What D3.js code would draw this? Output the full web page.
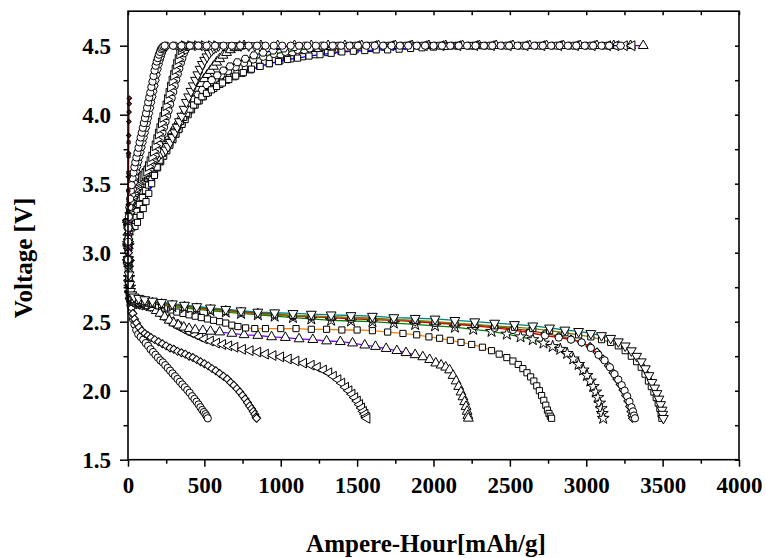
<!DOCTYPE html>
<html>
<head>
<meta charset="utf-8">
<script src="https://cdn.jsdelivr.net/npm/d3@7"></script>
<style>
  body { margin: 0; background: #fff; }
  text { font-family: "Liberation Serif", "Times New Roman", serif; font-weight: bold; fill: #000; }
</style>
</head>
<body>
<svg id="chart" width="766" height="558"></svg>
<script>
// ---- axis ticks ----
const xTicks = [0, 500, 1000, 1500, 2000, 2500, 3000, 3500, 4000];
const xMinorTicks = [250, 750, 1250, 1750, 2250, 2750, 3250, 3750];
const yTicks = [1.5, 2.0, 2.5, 3.0, 3.5, 4.0, 4.5];
const yMinorTicks = [1.75, 2.25, 2.75, 3.25, 3.75, 4.25];
const xTitle = "Ampere-Hour[mAh/g]";
const yTitle = "Voltage [V]";

// ---- discharge curves: [capacity mAh/g, voltage V] ----
const discharge1 = [[0,3.22],[2,3.02],[4,2.88],[7,2.76],[11,2.68],[16,2.62],[23,2.57],[32,2.52],[42,2.48],[54,2.44],[67,2.41],[83,2.39],[100,2.37],[116,2.345],[132,2.325],[148,2.30],[164,2.28],[180,2.26],[196,2.24],[212,2.22],[228,2.205],[244,2.185],[260,2.165],[276,2.145],[292,2.125],[308,2.105],[324,2.085],[340,2.065],[356,2.045],[372,2.025],[388,2.005],[404,1.985],[420,1.96],[435,1.94],[449,1.92],[462,1.90],[474,1.88],[486,1.86],[497,1.845],[507,1.83],[515,1.815],[522,1.80]];
const discharge2 = [[0,3.22],[2,3.04],[4,2.90],[7,2.78],[11,2.70],[16,2.65],[23,2.60],[32,2.56],[43,2.52],[56,2.49],[72,2.46],[90,2.435],[110,2.415],[130,2.40],[150,2.385],[175,2.37],[200,2.355],[225,2.34],[250,2.325],[275,2.31],[300,2.30],[325,2.285],[350,2.275],[375,2.265],[400,2.25],[425,2.24],[450,2.225],[475,2.21],[500,2.195],[525,2.18],[550,2.16],[575,2.145],[600,2.125],[625,2.105],[650,2.085],[672,2.06],[693,2.04],[713,2.015],[732,1.99],[750,1.965],[767,1.94],[782,1.915],[796,1.89],[809,1.87],[820,1.85],[830,1.83],[838,1.81],[842,1.80]];
const discharge3 = [[0,3.22],[2,3.05],[4,2.92],[7,2.80],[11,2.72],[17,2.67],[25,2.645],[40,2.63],[60,2.625],[80,2.62],[105,2.615],[130,2.61],[155,2.605],[180,2.59],[205,2.57],[230,2.545],[255,2.52],[280,2.50],[305,2.48],[330,2.465],[355,2.45],[380,2.435],[410,2.42],[440,2.405],[470,2.39],[500,2.375],[540,2.36],[580,2.345],[620,2.335],[660,2.325],[700,2.315],[750,2.30],[800,2.29],[850,2.28],[900,2.265],[950,2.255],[1000,2.245],[1050,2.23],[1100,2.215],[1150,2.20],[1200,2.185],[1240,2.17],[1280,2.15],[1315,2.13],[1345,2.105],[1375,2.08],[1400,2.055],[1425,2.025],[1447,2.00],[1467,1.975],[1485,1.95],[1502,1.925],[1517,1.90],[1530,1.875],[1542,1.85],[1552,1.83],[1560,1.81],[1565,1.80]];
const discharge4 = [[0,3.22],[2,3.05],[4,2.92],[7,2.81],[11,2.73],[17,2.68],[25,2.655],[40,2.64],[60,2.635],[85,2.63],[110,2.625],[135,2.615],[160,2.60],[185,2.58],[210,2.56],[240,2.535],[270,2.51],[300,2.49],[330,2.475],[365,2.46],[400,2.45],[440,2.44],[490,2.435],[540,2.43],[600,2.425],[680,2.415],[760,2.405],[850,2.40],[940,2.39],[1030,2.385],[1120,2.375],[1210,2.37],[1300,2.36],[1390,2.355],[1470,2.345],[1550,2.33],[1620,2.32],[1690,2.305],[1760,2.29],[1820,2.275],[1880,2.26],[1930,2.245],[1975,2.225],[2015,2.20],[2050,2.185],[2080,2.17],[2105,2.15],[2128,2.11],[2148,2.07],[2165,2.03],[2180,1.99],[2193,1.955],[2204,1.92],[2213,1.885],[2220,1.85],[2225,1.82],[2228,1.80]];
const discharge5 = [[0,3.22],[2,3.05],[4,2.92],[7,2.81],[11,2.74],[17,2.69],[25,2.665],[40,2.65],[60,2.645],[90,2.64],[120,2.635],[160,2.625],[200,2.615],[240,2.60],[280,2.585],[320,2.57],[360,2.56],[400,2.55],[440,2.54],[480,2.53],[520,2.52],[560,2.51],[600,2.50],[640,2.49],[680,2.475],[720,2.465],[770,2.455],[830,2.45],[900,2.45],[1000,2.45],[1100,2.45],[1200,2.445],[1300,2.445],[1400,2.44],[1500,2.44],[1600,2.435],[1700,2.425],[1800,2.415],[1890,2.405],[1970,2.39],[2040,2.38],[2110,2.365],[2180,2.35],[2250,2.335],[2320,2.315],[2380,2.29],[2430,2.265],[2480,2.24],[2520,2.215],[2555,2.19],[2585,2.16],[2612,2.13],[2636,2.10],[2657,2.07],[2676,2.035],[2693,2.00],[2708,1.965],[2722,1.93],[2735,1.895],[2746,1.86],[2756,1.835],[2765,1.815],[2773,1.80]];
const discharge6 = [[0,3.22],[2,3.05],[4,2.93],[7,2.82],[11,2.75],[17,2.70],[25,2.675],[40,2.66],[70,2.65],[110,2.64],[160,2.63],[220,2.62],[290,2.61],[370,2.60],[450,2.59],[540,2.58],[640,2.57],[740,2.56],[850,2.55],[960,2.54],[1080,2.53],[1200,2.52],[1330,2.51],[1460,2.505],[1600,2.50],[1740,2.49],[1880,2.48],[2010,2.47],[2140,2.46],[2260,2.445],[2380,2.43],[2480,2.41],[2570,2.39],[2650,2.37],[2720,2.345],[2780,2.32],[2830,2.30],[2875,2.27],[2915,2.23],[2950,2.19],[2980,2.15],[3005,2.11],[3027,2.07],[3046,2.03],[3062,1.99],[3076,1.95],[3088,1.91],[3098,1.87],[3105,1.835],[3111,1.80]];
const discharge7 = [[0,3.22],[2,3.06],[4,2.94],[7,2.83],[11,2.76],[17,2.71],[25,2.685],[40,2.67],[70,2.66],[110,2.65],[160,2.64],[220,2.63],[290,2.62],[370,2.61],[450,2.60],[540,2.59],[640,2.58],[740,2.57],[850,2.56],[960,2.55],[1080,2.54],[1200,2.535],[1330,2.53],[1460,2.52],[1600,2.515],[1740,2.51],[1880,2.50],[2010,2.49],[2140,2.48],[2270,2.47],[2400,2.455],[2520,2.44],[2630,2.42],[2730,2.40],[2820,2.385],[2900,2.37],[2970,2.35],[3030,2.31],[3080,2.26],[3120,2.22],[3155,2.17],[3185,2.12],[3210,2.08],[3232,2.04],[3251,2.00],[3268,1.96],[3283,1.92],[3296,1.88],[3306,1.85],[3313,1.82],[3319,1.80]];
const discharge8 = [[0,3.22],[2,3.06],[4,2.95],[7,2.84],[11,2.77],[17,2.72],[25,2.695],[40,2.68],[70,2.67],[110,2.66],[160,2.65],[220,2.64],[290,2.63],[370,2.62],[450,2.61],[540,2.60],[640,2.59],[740,2.58],[850,2.57],[960,2.565],[1080,2.56],[1200,2.555],[1330,2.55],[1460,2.545],[1600,2.54],[1740,2.53],[1880,2.525],[2010,2.52],[2140,2.51],[2270,2.50],[2400,2.49],[2530,2.48],[2650,2.47],[2760,2.455],[2860,2.44],[2950,2.43],[3030,2.415],[3100,2.40],[3160,2.38],[3210,2.355],[3255,2.325],[3295,2.29],[3330,2.25],[3360,2.21],[3387,2.16],[3410,2.11],[3430,2.06],[3448,2.02],[3463,1.98],[3476,1.94],[3487,1.90],[3496,1.86],[3501,1.83],[3505,1.80]];
const discharge9 = [[0,3.22],[2,3.05],[4,2.93],[7,2.82],[11,2.75],[17,2.70],[25,2.675],[40,2.66],[70,2.655],[110,2.645],[160,2.635],[220,2.625],[290,2.615],[370,2.605],[450,2.595],[540,2.585],[640,2.575],[740,2.565],[850,2.555],[960,2.55],[1080,2.545],[1200,2.54],[1330,2.535],[1460,2.53],[1600,2.52],[1740,2.515],[1880,2.51],[2010,2.50],[2140,2.49],[2270,2.48],[2400,2.47],[2530,2.46],[2650,2.45],[2760,2.435],[2860,2.42],[2950,2.405],[3030,2.39],[3100,2.37],[3160,2.35],[3210,2.325],[3255,2.29],[3295,2.25],[3330,2.21],[3360,2.17],[3385,2.12],[3407,2.07],[3426,2.03],[3443,1.99],[3458,1.95],[3471,1.91],[3482,1.87],[3490,1.83],[3495,1.80]];
const discharge10 = [[0,3.22],[3,3.00],[6,2.86],[10,2.77],[16,2.71],[25,2.69],[40,2.675],[70,2.665],[110,2.655],[160,2.645],[220,2.635],[290,2.625],[370,2.615],[450,2.605],[540,2.595],[640,2.585],[740,2.575],[850,2.565],[960,2.555],[1080,2.545],[1200,2.54],[1330,2.535],[1460,2.53],[1600,2.525],[1740,2.515],[1880,2.505],[2010,2.495],[2140,2.485],[2270,2.475],[2400,2.465],[2520,2.45],[2630,2.435],[2730,2.415],[2820,2.395],[2900,2.375],[2970,2.35],[3025,2.32],[3070,2.28],[3110,2.23],[3145,2.18],[3175,2.13],[3200,2.085],[3222,2.045],[3241,2.005],[3258,1.965],[3272,1.925],[3284,1.885],[3293,1.85],[3299,1.82],[3303,1.80]];

// ---- charge curves: [capacity mAh/g, voltage V] ----
const charge1 = [[0,2.95],[1,3.08],[3,3.18],[6,3.26],[10,3.33],[14,3.39],[19,3.45],[24,3.49],[30,3.54],[36,3.58],[42,3.62],[48,3.655],[55,3.69],[62,3.725],[69,3.76],[76,3.80],[83,3.835],[90,3.87],[97,3.905],[104,3.94],[111,3.975],[118,4.01],[125,4.05],[132,4.09],[139,4.125],[146,4.16],[153,4.20],[160,4.24],[167,4.28],[174,4.32],[181,4.355],[188,4.385],[195,4.41],[202,4.435],[209,4.455],[216,4.475],[223,4.485],[231,4.495],[240,4.5],[295,4.5],[350,4.5],[405,4.5],[460,4.5],[515,4.5],[570,4.5],[625,4.5],[680,4.5],[735,4.5],[790,4.5],[845,4.5],[900,4.5],[955,4.5],[1010,4.5],[1065,4.5],[1120,4.5],[1175,4.5],[1230,4.5],[1285,4.5],[1340,4.5],[1395,4.5],[1450,4.5],[1505,4.5],[1560,4.5],[1615,4.5],[1670,4.5],[1725,4.5],[1780,4.5],[1835,4.5],[1890,4.5],[1945,4.5],[2000,4.5],[2055,4.5],[2110,4.5],[2165,4.5],[2220,4.5],[2275,4.5],[2330,4.5],[2385,4.5],[2440,4.5],[2495,4.5],[2550,4.5],[2605,4.5],[2660,4.5],[2715,4.5],[2770,4.5],[2825,4.5],[2880,4.5],[2935,4.5],[2990,4.5],[3045,4.5],[3100,4.5],[3150,4.5]];
const charge1b = [[0,2.95],[2,3.10],[5,3.19],[9,3.26],[14,3.32],[19,3.37],[25,3.42],[31,3.46],[38,3.51],[45,3.55],[52,3.59],[59,3.625],[66,3.66],[73,3.695],[80,3.73],[87,3.765],[94,3.80],[101,3.835],[108,3.87],[115,3.905],[122,3.94],[129,3.975],[136,4.01],[143,4.05],[150,4.09],[157,4.13],[164,4.17],[171,4.21],[178,4.25],[185,4.29],[192,4.33],[199,4.365],[206,4.395],[213,4.42],[220,4.445],[227,4.465],[234,4.48],[242,4.49],[250,4.5],[305,4.5],[360,4.5],[415,4.5],[470,4.5]];
const charge2 = [[0,2.95],[1,3.08],[3,3.17],[6,3.24],[10,3.29],[15,3.33],[21,3.37],[28,3.40],[36,3.43],[45,3.455],[55,3.48],[65,3.50],[76,3.52],[87,3.54],[98,3.555],[110,3.57],[122,3.59],[133,3.625],[144,3.66],[155,3.695],[166,3.735],[177,3.775],[188,3.82],[198,3.86],[208,3.90],[218,3.94],[228,3.98],[238,4.02],[248,4.065],[258,4.11],[268,4.155],[278,4.20],[288,4.245],[298,4.285],[308,4.325],[318,4.365],[328,4.40],[338,4.44],[348,4.47],[358,4.49],[368,4.5],[410,4.5],[455,4.5],[500,4.5],[545,4.5],[580,4.5]];
const charge2b = [[0,2.95],[2,3.10],[5,3.18],[9,3.24],[15,3.29],[22,3.33],[30,3.37],[39,3.40],[49,3.43],[60,3.455],[72,3.48],[84,3.50],[96,3.52],[108,3.54],[120,3.56],[132,3.58],[144,3.605],[156,3.635],[168,3.67],[180,3.705],[192,3.745],[204,3.785],[216,3.83],[226,3.87],[236,3.91],[246,3.95],[256,3.99],[266,4.03],[276,4.075],[286,4.12],[296,4.165],[306,4.21],[316,4.255],[326,4.295],[336,4.335],[346,4.375],[356,4.41],[366,4.445],[376,4.47],[386,4.49],[396,4.5],[440,4.5],[485,4.5]];
const charge3 = [[0,2.95],[1,3.08],[3,3.16],[7,3.22],[12,3.27],[18,3.31],[26,3.35],[35,3.38],[45,3.41],[57,3.44],[70,3.47],[84,3.50],[98,3.53],[112,3.56],[127,3.59],[142,3.615],[157,3.64],[172,3.66],[187,3.68],[202,3.70],[217,3.72],[232,3.73],[247,3.745],[262,3.77],[277,3.80],[292,3.835],[307,3.87],[322,3.91],[337,3.95],[352,3.99],[367,4.04],[382,4.09],[397,4.13],[412,4.17],[427,4.21],[442,4.25],[457,4.29],[472,4.33],[487,4.365],[502,4.395],[517,4.42],[532,4.445],[547,4.465],[562,4.48],[577,4.49],[592,4.5],[640,4.5],[690,4.5],[740,4.5],[790,4.5],[830,4.5],[864,4.5]];
const charge4 = [[0,2.95],[1,3.08],[3,3.15],[7,3.21],[13,3.26],[20,3.30],[29,3.34],[39,3.38],[50,3.41],[62,3.44],[75,3.47],[90,3.50],[106,3.53],[122,3.56],[139,3.59],[156,3.62],[174,3.65],[192,3.68],[210,3.71],[228,3.74],[246,3.77],[264,3.80],[282,3.83],[300,3.86],[318,3.89],[336,3.93],[354,3.97],[372,4.01],[390,4.05],[408,4.085],[426,4.12],[444,4.155],[462,4.19],[480,4.225],[500,4.26],[520,4.29],[540,4.32],[560,4.35],[580,4.38],[600,4.405],[622,4.43],[645,4.45],[670,4.47],[700,4.485],[730,4.495],[760,4.5],[870,4.5],[980,4.5],[1090,4.5],[1200,4.5],[1310,4.5],[1420,4.5],[1530,4.5],[1640,4.5],[1750,4.5],[1860,4.5],[1970,4.5],[2080,4.5],[2190,4.5],[2300,4.5],[2410,4.5],[2520,4.5],[2630,4.5],[2740,4.5],[2850,4.5],[2960,4.5],[3070,4.5],[3180,4.5],[3290,4.5],[3373,4.5]];
const charge5 = [[0,2.95],[1,3.08],[3,3.14],[9,3.20],[18,3.25],[30,3.30],[45,3.35],[62,3.40],[82,3.45],[104,3.50],[124,3.54],[144,3.58],[164,3.62],[184,3.66],[204,3.70],[224,3.74],[244,3.78],[264,3.82],[284,3.86],[304,3.895],[324,3.93],[344,3.965],[364,4.00],[386,4.04],[408,4.075],[432,4.11],[458,4.145],[486,4.18],[516,4.215],[548,4.25],[584,4.285],[624,4.32],[668,4.35],[716,4.38],[768,4.405],[824,4.43],[884,4.45],[950,4.465],[1020,4.48],[1090,4.49],[1160,4.5],[1270,4.5],[1380,4.5],[1490,4.5],[1600,4.5],[1710,4.5],[1820,4.5],[1930,4.5],[2040,4.5],[2150,4.5],[2260,4.5],[2370,4.5],[2480,4.5],[2590,4.5],[2700,4.5],[2810,4.5],[2920,4.5],[3030,4.5],[3140,4.5],[3225,4.5]];
const charge6 = [[0,2.95],[1,3.08],[3,3.13],[9,3.19],[18,3.24],[30,3.28],[45,3.33],[62,3.38],[82,3.43],[104,3.47],[125,3.51],[146,3.55],[167,3.59],[188,3.63],[209,3.67],[230,3.71],[251,3.75],[272,3.79],[293,3.83],[314,3.87],[335,3.91],[355,3.955],[375,4.00],[398,4.04],[422,4.08],[448,4.115],[476,4.15],[506,4.185],[540,4.22],[580,4.25],[625,4.28],[675,4.31],[730,4.34],[790,4.37],[855,4.39],[925,4.41],[1000,4.43],[1080,4.445],[1160,4.46],[1250,4.47],[1340,4.48],[1420,4.49],[1500,4.5],[1610,4.5],[1720,4.5],[1830,4.5],[1940,4.5],[2050,4.5],[2160,4.5],[2270,4.5],[2380,4.5],[2490,4.5],[2600,4.5],[2710,4.5],[2820,4.5],[2930,4.5],[3040,4.5],[3140,4.5],[3195,4.5],[3250,4.5],[3300,4.5]];
const charge7 = [[0,2.95],[4,3.10],[12,3.16],[25,3.18],[46,3.19],[62,3.22],[80,3.27],[100,3.32],[118,3.37],[136,3.43],[155,3.50],[173,3.56],[191,3.62],[209,3.67],[227,3.72],[245,3.76],[264,3.80],[284,3.84],[304,3.88],[324,3.915],[344,3.95],[364,3.98],[384,4.01],[406,4.04],[430,4.07],[456,4.10],[484,4.13],[514,4.155],[546,4.18],[580,4.205],[618,4.23],[660,4.255],[705,4.28],[755,4.305],[808,4.33],[865,4.35],[925,4.37],[985,4.385],[1045,4.40],[1110,4.41],[1185,4.425],[1257,4.435],[1330,4.445],[1400,4.455],[1475,4.46],[1550,4.465],[1625,4.47],[1700,4.47],[1775,4.475],[1850,4.48],[1925,4.485],[2000,4.49],[2080,4.495],[2160,4.5],[2240,4.5],[2320,4.5]];
const charge8 = [[0,2.95],[1,3.08],[3,3.135],[9,3.195],[18,3.245],[30,3.29],[45,3.34],[62,3.39],[82,3.44],[104,3.485],[125,3.525],[146,3.565],[167,3.605],[188,3.645],[209,3.685],[230,3.725],[251,3.765],[272,3.805],[293,3.845],[314,3.885],[335,3.925],[356,3.965],[376,4.00],[398,4.04],[421,4.08],[446,4.115],[473,4.15],[502,4.185],[534,4.22],[570,4.255],[610,4.285],[655,4.315],[705,4.345],[760,4.375],[820,4.40],[885,4.42],[955,4.44],[1030,4.455],[1110,4.47],[1190,4.48],[1270,4.49],[1350,4.5],[1460,4.5],[1570,4.5],[1680,4.5],[1790,4.5],[1900,4.5],[2010,4.5],[2120,4.5],[2230,4.5],[2340,4.5],[2450,4.5],[2560,4.5],[2670,4.5],[2780,4.5],[2890,4.5],[3000,4.5],[3110,4.5],[3200,4.5]];
const charge9 = [[0,2.95],[2,3.09],[6,3.15],[14,3.19],[26,3.22],[40,3.26],[56,3.30],[74,3.35],[94,3.40],[114,3.45],[134,3.49],[154,3.53],[174,3.57],[194,3.615],[214,3.66],[234,3.70],[254,3.74],[274,3.78],[294,3.82],[314,3.86],[334,3.895],[354,3.93],[374,3.965],[394,4.00],[416,4.035],[440,4.07],[466,4.10],[494,4.13],[526,4.16],[562,4.19],[602,4.22],[646,4.25],[694,4.275],[746,4.30],[802,4.325],[862,4.35],[926,4.37],[994,4.39],[1066,4.405],[1142,4.42],[1222,4.435],[1306,4.45],[1394,4.46],[1486,4.47],[1582,4.48],[1680,4.49],[1780,4.495],[1880,4.5],[1990,4.5],[2100,4.5]];
// short steps right at the start of charge
const chargeStep1 = [[2,3.35],[3,3.55],[4,3.72],[5,3.85],[6,3.95],[7,4.02],[8,4.08],[9,4.12]];
const chargeStep2 = [[1,3.30],[2,3.45],[3,3.58],[3.5,3.70],[4,3.80]];

// ---- series styling ----
const seriesList = [
  { data: discharge1,  shape: "circle",   color: "#000000" },
  { data: discharge2,  shape: "diamond",  color: "#000000" },
  { data: discharge3,  shape: "triLeft",  color: "#ff0000" },
  { data: discharge4,  shape: "triUp",    color: "#8000ff" },
  { data: discharge5,  shape: "square",   color: "#ff8000" },
  { data: discharge6,  shape: "star",     color: "#008000" },
  { data: discharge10, shape: "diamond",  color: "#804000" },
  { data: discharge7,  shape: "circle",   color: "#cc0000" },
  { data: discharge9,  shape: "square",   color: "#808000" },
  { data: discharge8,  shape: "triDown",  color: "#008080" },
  { data: charge4,     shape: "triUp",    color: "#800080" },
  { data: charge6,     shape: "triLeft",  color: "#ff0000" },
  { data: charge8,     shape: "circle",   color: "#008000" },
  { data: charge5,     shape: "hexagon",  color: "#000080" },
  { data: charge9,     shape: "square",   color: "#ff8000" },
  { data: charge7,     shape: "square",   color: "#0000ff" },
  { data: charge3,     shape: "triDown",  color: "#000000" },
  { data: charge2b,    shape: "circle",   color: "#000000" },
  { data: charge2,     shape: "triRight", color: "#0000ff" },
  { data: charge1b,    shape: "hexagon",  color: "#000000" },
  { data: charge1,     shape: "circle",   color: "#ff00ff" },
  { data: chargeStep2, shape: "square",   color: "#808000", small: true },
  { data: chargeStep1, shape: "diamond",  color: "#ff0000", small: true }
];

const svg = d3.select("#chart");
const W = 766, H = 558;
svg.append("rect").attr("width", W).attr("height", H).attr("fill", "#fff");

const x = d3.scaleLinear().domain([0, 4000]).range([128, 739]);
const y = d3.scaleLinear().domain([1.5, 4.75]).range([459.7, 11.2]);

// custom hexagon symbol
const symbolHexagon = {
  draw(ctx, size) {
    const r = Math.sqrt(size / (1.5 * Math.sqrt(3)));
    for (let i = 0; i < 6; i++) {
      const a = Math.PI / 3 * i;
      const px = r * Math.cos(a), py = r * Math.sin(a);
      if (i === 0) ctx.moveTo(px, py); else ctx.lineTo(px, py);
    }
    ctx.closePath();
  }
};
const shapeDefs = {
  circle:   { type: d3.symbolCircle,   size: 42, rot: 0 },
  square:   { type: d3.symbolSquare,   size: 38, rot: 0 },
  diamond:  { type: d3.symbolSquare,   size: 32, rot: 45 },
  triUp:    { type: d3.symbolTriangle, size: 42, rot: 0 },
  triDown:  { type: d3.symbolTriangle, size: 42, rot: 180 },
  triLeft:  { type: d3.symbolTriangle, size: 42, rot: -90 },
  triRight: { type: d3.symbolTriangle, size: 42, rot: 90 },
  star:     { type: d3.symbolStar,     size: 44, rot: 0 },
  hexagon:  { type: symbolHexagon,     size: 42, rot: 0 }
};

const line = d3.line().x(d => x(d[0])).y(d => y(d[1]));
const plot = svg.append("g");

seriesList.forEach(s => {
  const def = shapeDefs[s.shape];
  const g = plot.append("g");
  g.append("path")
    .attr("d", line(s.data))
    .attr("fill", "none")
    .attr("stroke", s.color)
    .attr("stroke-width", 1.3);
  const sym = d3.symbol().type(def.type).size(s.small ? 10 : def.size);
  g.selectAll("path.m")
    .data(s.data)
    .join("path")
    .attr("class", "m")
    .attr("d", sym)
    .attr("transform", d => `translate(${x(d[0])},${y(d[1])}) rotate(${def.rot})`)
    .attr("fill", s.small ? s.color : "#fff")
    .attr("stroke", "#000")
    .attr("stroke-width", 1);
});

// ---- frame and axes ----
svg.append("rect")
  .attr("x", x(0)).attr("y", y(4.75))
  .attr("width", x(4000) - x(0)).attr("height", y(1.5) - y(4.75))
  .attr("fill", "none").attr("stroke", "#000").attr("stroke-width", 1.6);

function styleAxis(g) {
  g.select(".domain").remove();
  g.selectAll("line").attr("stroke", "#000").attr("stroke-width", 1.5);
}
const labelFont = g => g.selectAll("text")
  .style("font-size", "23px")
  .style("font-family", "'Liberation Serif', 'Times New Roman', serif")
  .style("font-weight", "bold");

// bottom axis
svg.append("g")
  .attr("transform", `translate(0,${y(1.5)})`)
  .call(d3.axisBottom(x).tickValues(xTicks).tickSize(7).tickFormat(d3.format("d")))
  .call(styleAxis)
  .call(g => g.selectAll("text").attr("y", 33.6).attr("dy", 0))
  .call(labelFont);
svg.append("g")
  .attr("transform", `translate(0,${y(1.5)})`)
  .call(d3.axisBottom(x).tickValues(xMinorTicks).tickSize(4).tickFormat(""))
  .call(styleAxis);

// left axis
svg.append("g")
  .attr("transform", `translate(${x(0)},0)`)
  .call(d3.axisLeft(y).tickValues(yTicks).tickSize(8).tickFormat(d3.format(".1f")))
  .call(styleAxis)
  .call(g => g.selectAll("text").attr("x", -17).attr("dy", "0.34em"))
  .call(labelFont);
svg.append("g")
  .attr("transform", `translate(${x(0)},0)`)
  .call(d3.axisLeft(y).tickValues(yMinorTicks).tickSize(4.5).tickFormat(""))
  .call(styleAxis);

// top axis, ticks pointing inward
svg.append("g")
  .attr("transform", `translate(0,${y(4.75)})`)
  .call(d3.axisBottom(x).tickValues(xTicks.concat(xMinorTicks)).tickSize(4).tickFormat(""))
  .call(styleAxis);

// right axis, ticks pointing inward
svg.append("g")
  .attr("transform", `translate(${x(4000)},0)`)
  .call(d3.axisLeft(y).tickValues(yTicks.concat(yMinorTicks)).tickSize(4).tickFormat(""))
  .call(styleAxis);

// titles
svg.append("text")
  .attr("x", 426).attr("y", 552)
  .attr("text-anchor", "middle")
  .style("font-size", "25px")
  .text(xTitle);
svg.append("text")
  .attr("transform", "translate(32,258) rotate(-90)")
  .attr("text-anchor", "middle")
  .style("font-size", "25px")
  .text(yTitle);
</script>
</body>
</html>
